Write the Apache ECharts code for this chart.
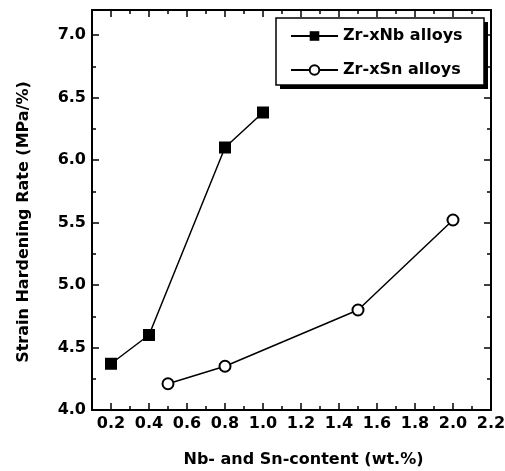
<!DOCTYPE html>
<html>
<head>
<meta charset="utf-8">
<script src="https://cdn.jsdelivr.net/npm/echarts@6/dist/echarts.min.js"></script>
<style>
  html, body { margin: 0; padding: 0; background: #fff; }
  #chart { width: 505px; height: 471px; }
</style>
</head>
<body>
<div id="chart"></div>
<script>
// data
var nbX = [0.2, 0.4, 0.8, 1.0]
var nbY = [4.37, 4.60, 6.10, 6.38]
var snX = [0.5, 0.8, 1.5, 2.0]
var snY = [4.21, 4.35, 4.80, 5.52]
var xMajor = [0.2, 0.4, 0.6, 0.8, 1.0, 1.2, 1.4, 1.6, 1.8, 2.0, 2.2]
var xMinor = [0.1, 0.3, 0.5, 0.7, 0.9, 1.1, 1.3, 1.5, 1.7, 1.9, 2.1]

var font = 'DejaVu Sans'
var txt = { fontFamily: font, fontSize: 16, fontWeight: 'bold', color: '#000' }

// hidden axes that only carry the minor / mirrored ticks
function tickAxis (pos, vals, len, line) {
  return {
    type: 'value', position: pos, min: 0.1, max: 2.2,
    axisLine: { show: line, onZero: false, lineStyle: { color: '#000', width: 2 } },
    axisTick: { show: true, inside: true, length: len, customValues: vals, lineStyle: { color: '#000', width: 1.5 } },
    axisLabel: { show: false },
    splitLine: { show: false }
  }
}

var myChart = echarts.init(document.getElementById('chart'))
myChart.setOption({
  animation: false,
  grid: { left: 92, top: 10, right: 14, bottom: 61, containLabel: false, outerBoundsMode: 'none' },
  // legend frame with its hard drop shadow
  graphic: [
    { type: 'rect', z: 90, shape: { x: 280, y: 22, width: 208, height: 67 }, style: { fill: '#000' } },
    { type: 'rect', z: 91, shape: { x: 276, y: 18, width: 208, height: 67 }, style: { fill: '#fff', stroke: '#000', lineWidth: 1.5 } }
  ],
  legend: {
    z: 100,
    orient: 'vertical',
    left: 290, top: 28,
    padding: 0,
    itemGap: 18,
    itemWidth: 47,
    itemHeight: 12,
    textStyle: txt,
    data: ['Zr-xNb alloys', 'Zr-xSn alloys']
  },
  xAxis: [
    {
      type: 'value', position: 'bottom', min: 0.1, max: 2.2,
      name: 'Nb- and Sn-content (wt.%)', nameLocation: 'middle', nameGap: 42,
      nameTextStyle: Object.assign({ padding: [0, 0, 0, 24] }, txt),
      axisLine: { show: true, onZero: false, lineStyle: { color: '#000', width: 2 } },
      axisTick: { show: true, inside: true, length: 7, customValues: xMajor, lineStyle: { color: '#000', width: 1.5 } },
      axisLabel: Object.assign({ margin: 6, customValues: xMajor, formatter: function (v) { return v.toFixed(1) } }, txt),
      splitLine: { show: false }
    },
    tickAxis('bottom', xMinor, 4, false),
    tickAxis('top', xMajor, 7, true),
    tickAxis('top', xMinor, 4, false)
  ],
  yAxis: [
    {
      type: 'value', position: 'left', min: 4.0, max: 7.2, interval: 0.5,
      name: 'Strain Hardening Rate (MPa/%)', nameLocation: 'middle', nameGap: 60,
      nameTextStyle: Object.assign({ padding: [0, 24, 0, 0] }, txt),
      axisLine: { show: true, lineStyle: { color: '#000', width: 2 } },
      axisTick: { show: true, inside: true, length: 7, lineStyle: { color: '#000', width: 1.5 } },
      minorTick: { show: true, splitNumber: 2, length: 4, lineStyle: { color: '#000', width: 1.5 } },
      axisLabel: Object.assign({ margin: 6, showMaxLabel: false, formatter: function (v) { return v.toFixed(1) } }, txt),
      splitLine: { show: false }
    },
    {
      type: 'value', position: 'right', min: 4.0, max: 7.2, interval: 0.5,
      axisLine: { show: true, lineStyle: { color: '#000', width: 2 } },
      axisTick: { show: true, inside: true, length: 7, lineStyle: { color: '#000', width: 1.5 } },
      minorTick: { show: true, splitNumber: 2, length: 4, lineStyle: { color: '#000', width: 1.5 } },
      axisLabel: { show: false },
      splitLine: { show: false }
    }
  ],
  series: [
    {
      name: 'Zr-xNb alloys',
      type: 'line',
      data: nbX.map(function (x, i) { return [x, nbY[i]] }),
      symbol: 'rect',
      symbolSize: 12,
      lineStyle: { color: '#000', width: 1.5 },
      itemStyle: { color: '#000' }
    },
    {
      name: 'Zr-xSn alloys',
      type: 'line',
      data: snX.map(function (x, i) { return [x, snY[i]] }),
      symbol: 'circle',
      symbolSize: 11,
      lineStyle: { color: '#000', width: 1.5 },
      itemStyle: { color: '#fff', borderColor: '#000', borderWidth: 2 }
    }
  ]
})
</script>
</body>
</html>
